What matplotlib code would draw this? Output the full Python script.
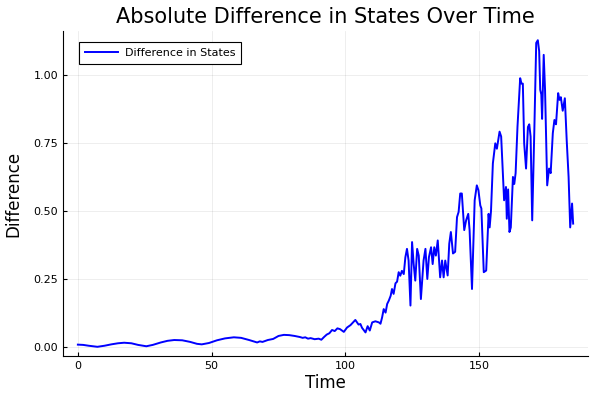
import numpy as np
import matplotlib
matplotlib.use("Agg")
import matplotlib.pyplot as plt

# values
time = [0, 2, 4, 7.3, 10, 12.5, 15, 17.3, 20, 22.5, 25.6, 28, 31, 33.5, 36, 39, 42, 44.5, 46.3,
        49, 52, 55, 58.3, 61, 64, 66, 67, 68, 69, 71, 73, 75, 77, 79, 81, 83, 84, 85, 86, 87,
        88.5, 90, 91, 92, 93, 94, 95, 96, 97, 98, 99.4, 100.6, 101.9, 103.7, 104.9, 105.6,
        106.2, 107.5, 108.3, 109.1, 110, 111.2, 112.5, 113.1, 113.7, 114.3, 115, 115.6, 116.2,
        116.9, 117.4, 118, 118.7, 119.3, 119.9, 120.5, 121.1, 121.8, 122.4, 123, 123.6, 124.3,
        124.9, 125.5, 126.1, 126.8, 127.4, 128.2, 129.2, 129.9, 130.6, 131.2, 132, 132.6, 133.2,
        133.8, 134.5, 135.4, 136.1, 136.7, 137.3, 138.2, 138.8, 139.4, 140.2, 141, 141.7, 142.3,
        142.9, 143.5, 144.4, 145.1, 145.9, 146.4, 147.3, 148.3, 149.1, 149.7, 150.4, 150.8,
        151.7, 152.6, 153.5, 153.9, 154.4, 155.1, 156, 156.6, 157.6, 158.2, 159.3, 160, 160.3,
        160.8, 161.3, 161.8, 162.6, 163.1, 163.6, 164.3, 165.3, 165.8, 166.3, 166.8, 167.5,
        168.2, 168.7, 169.2, 169.8, 170.6, 171.3, 171.9, 172.4, 172.8, 173.2, 173.5, 174.1,
        174.6, 175.4, 176.1, 176.7, 177.5, 178.1, 178.7, 179.5, 180, 180.5, 181.2, 182, 182.7,
        183.4, 184, 184.7, 185.1]
difference = [0.008, 0.007, 0.004, 0.000, 0.004, 0.009, 0.013, 0.015, 0.013, 0.007, 0.002, 0.007,
              0.016, 0.022, 0.025, 0.024, 0.018, 0.011, 0.009, 0.014, 0.024, 0.031, 0.035, 0.033,
              0.025, 0.019, 0.016, 0.020, 0.018, 0.025, 0.029, 0.040, 0.044, 0.043, 0.040, 0.036,
              0.033, 0.035, 0.030, 0.032, 0.028, 0.030, 0.026, 0.036, 0.045, 0.050, 0.062, 0.058,
              0.068, 0.065, 0.055, 0.071, 0.080, 0.099, 0.082, 0.084, 0.070, 0.053, 0.076, 0.060,
              0.090, 0.094, 0.090, 0.085, 0.108, 0.139, 0.126, 0.158, 0.170, 0.188, 0.213, 0.195,
              0.234, 0.240, 0.275, 0.262, 0.280, 0.268, 0.330, 0.361, 0.318, 0.152, 0.386, 0.305,
              0.244, 0.361, 0.336, 0.176, 0.318, 0.361, 0.250, 0.330, 0.367, 0.305, 0.367, 0.336,
              0.392, 0.256, 0.318, 0.256, 0.318, 0.263, 0.380, 0.423, 0.344, 0.350, 0.478, 0.497,
              0.565, 0.565, 0.430, 0.466, 0.490, 0.430, 0.213, 0.540, 0.595, 0.577, 0.521, 0.510,
              0.275, 0.281, 0.490, 0.440, 0.500, 0.676, 0.750, 0.730, 0.793, 0.775, 0.540, 0.589,
              0.472, 0.580, 0.423, 0.440, 0.626, 0.600, 0.640, 0.811, 0.990, 0.970, 0.970, 0.750,
              0.657, 0.810, 0.820, 0.775, 0.466, 0.800, 1.120, 1.130, 1.090, 0.947, 0.930, 0.840,
              1.076, 0.947, 0.595, 0.657, 0.640, 0.787, 0.836, 0.820, 0.935, 0.910, 0.920, 0.870,
              0.916, 0.760, 0.626, 0.440, 0.528, 0.454]

fig = plt.figure(figsize=(6, 4), dpi=100)
ax = fig.add_axes([0.105, 0.11, 0.875, 0.8125])

ax.plot(time, difference, color="blue", lw=1.4, label="Difference in States")

ax.margins(x=0.03, y=0.03)
ax.set_xticks([0, 50, 100, 150])
ax.set_yticks([0, 0.25, 0.5, 0.75, 1.0])
ax.set_yticklabels(["0.00", "0.25", "0.50", "0.75", "1.00"])
ax.grid(True, color="black", alpha=0.08, lw=0.6)

for s in ["top", "right"]:
    ax.spines[s].set_visible(False)
ax.tick_params(direction="in", labelsize=8, length=3)

ax.set_title("Absolute Difference in States Over Time", fontsize=15)
ax.set_xlabel("Time", fontsize=12, labelpad=2)
ax.set_ylabel("Difference", fontsize=12, labelpad=8)

leg = ax.legend(loc="upper left", bbox_to_anchor=(0.03, 0.966), borderaxespad=0,
                fontsize=8, fancybox=False, edgecolor="black", framealpha=1,
                borderpad=0.55, handlelength=3.0, handletextpad=0.6)
leg.get_frame().set_linewidth(0.8)

fig.savefig("out.png", dpi=100)
